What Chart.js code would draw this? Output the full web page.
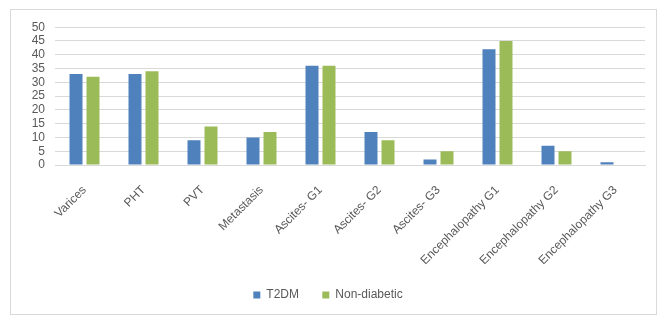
<!DOCTYPE html>
<html><head><meta charset="utf-8">
<script src="https://cdn.jsdelivr.net/npm/chart.js@4"></script>
<style>
html,body{margin:0;padding:0;background:#fff;}
#box{position:absolute;left:10px;top:9px;width:645px;height:304px;border:1px solid #d9d9d9;}
canvas{display:block;}
</style></head><body>
<div id="box"><canvas id="c" width="645" height="304"></canvas></div>
<script>
const categories = ["Varices","PHT","PVT","Metastasis","Ascites- G1","Ascites- G2","Ascites- G3","Encephalopathy G1","Encephalopathy G2","Encephalopathy G3"];
const t2dm = [33,33,9,10,36,12,2,42,7,1];
const nonDiabetic = [32,34,14,12,36,9,5,45,5,0];
const seriesNames = ["T2DM","Non-diabetic"];
const yTicks = {min:0,max:50,step:5};

const font = {family:"'Liberation Sans', Arial, sans-serif", size:12};
new Chart(document.getElementById('c'), {
  type:'bar',
  data:{labels:categories, datasets:[
    {label:seriesNames[0], data:t2dm, backgroundColor:'#4F81BD', borderWidth:0},
    {label:seriesNames[1], data:nonDiabetic, backgroundColor:'#9BBB59', borderWidth:0}
  ]},
  options:{
    responsive:false, animation:false,
    layout:{padding:{left:0,right:11,top:9,bottom:3}},
    datasets:{bar:{categoryPercentage:0.576, barPercentage:0.765}},
    scales:{
      y:{min:yTicks.min,max:yTicks.max,
         ticks:{stepSize:yTicks.step,color:'#595959',font:font,padding:10,autoSkip:false},
         grid:{color:'#d9d9d9',drawTicks:false},
         border:{display:false},
         afterFit:s=>{s.width=44;}
      },
      x:{ticks:{color:'#595959',font:font,maxRotation:45,minRotation:45,padding:10,autoSkip:false},
         grid:{display:false},
         border:{color:'#d9d9d9'},
         afterFit:s=>{s.height=114;}
      }
    },
    plugins:{
      legend:{position:'bottom',labels:{boxWidth:7,boxHeight:7,color:'#595959',font:font,padding:10,
        generateLabels:(chart)=>{
          const items = Chart.defaults.plugins.legend.labels.generateLabels(chart);
          items[0].text = items[0].text + '    ';
          return items;
        }}},
      tooltip:{enabled:false}
    }
  }
});
</script></body></html>
